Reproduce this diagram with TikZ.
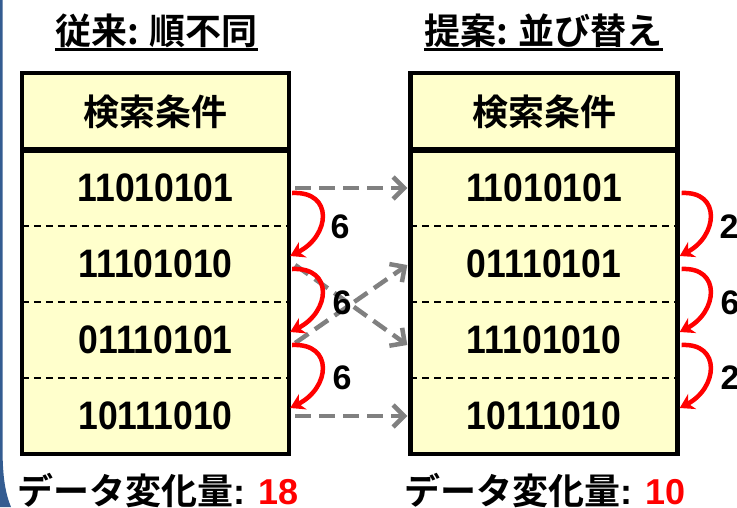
\documentclass[tikz,border=0pt]{standalone}
\usepackage{fontspec}
\setmainfont{Liberation Sans}
\newfontfamily\jp{Noto Sans CJK JP}[BoldFont={Noto Sans CJK JP Bold}]
\usetikzlibrary{arrows.meta,calc}
\definecolor{tblfill}{RGB}{255,255,204}
\definecolor{edgeblue}{RGB}{52,92,145}
\definecolor{arrgrey}{RGB}{128,128,128}
\definecolor{arcred}{RGB}{255,0,0}
\newcommand{\bits}[1]{\raisebox{-3pt}{\scalebox{1}[1.12]{#1}}}
\begin{document}
\begin{tikzpicture}[x=1pt,y=1pt,
  cell/.style={fill=tblfill, minimum width=267pt, minimum height=76pt, inner sep=0pt,
    font=\fontsize{35.5}{40}\selectfont\bfseries},
  hdrcell/.style={cell, minimum height=77pt, font=\fontsize{36}{40}\selectfont\jp\bfseries},
  ttl/.style={inner sep=0pt, anchor=base, font=\fontsize{36}{40}\selectfont\jp\bfseries},
  tot/.style={inner sep=0pt, anchor=base west, font=\fontsize{36}{40}\selectfont\jp\bfseries},
  cnt/.style={inner sep=0pt, font=\fontsize{34}{38}\selectfont\bfseries},
  border/.style={line width=4.5pt, line join=miter},
  hdrline/.style={line width=6pt},
  sepline/.style={line width=2pt, dash pattern=on 7pt off 5pt},
  movearrow/.style={draw=arrgrey, line width=4.5pt, dash pattern=on 16pt off 8pt,
    -{Straight Barb[length=11pt,width=22pt]}},
  redarc/.style={draw=arcred, line width=4.5pt, -{Stealth[length=14pt,width=17pt]}}
]
\useasboundingbox (0,0) rectangle (737,-507);
\clip (0,0) rectangle (737,-507);

% blue slide edge
\fill[edgeblue] (0,0) -- (2.6,0) -- (2.6,-455) .. controls (3,-480) and (6,-495) .. (11,-507) -- (0,-507) -- cycle;

% titles
\node[ttl] (TL) at (156.5,-44.5) {従来: 順不同};
\node[ttl] (TR) at (543.5,-44.5) {提案: 並び替え};
\draw[line width=2.5pt] ([yshift=-5pt]TL.base west) -- ([yshift=-5pt]TL.base east);
\draw[line width=2.5pt] ([yshift=-5pt]TR.base west) -- ([yshift=-5pt]TR.base east);

% left table
\node[hdrcell] (L0) at (155.5,-111.5) {検索条件};
\node[cell] (L1) at (155.5,-188) {\bits{11010101}};
\node[cell] (L2) at (155.5,-264) {\bits{11101010}};
\node[cell] (L3) at (155.5,-340) {\bits{01110101}};
\node[cell] (L4) at (155.5,-416) {\bits{10111010}};
\foreach \r in {1,2,3}{\draw[sepline] (L\r.south west) -- (L\r.south east);}
\draw[hdrline] (L0.south west) -- (L0.south east);
\draw[border] (L0.north west) rectangle (L4.south east);

% right table
\node[hdrcell] (R0) at (544,-111.5) {検索条件};
\node[cell] (R1) at (544,-188) {\bits{11010101}};
\node[cell] (R2) at (544,-264) {\bits{01110101}};
\node[cell] (R3) at (544,-340) {\bits{11101010}};
\node[cell] (R4) at (544,-416) {\bits{10111010}};
\foreach \r in {1,2,3}{\draw[sepline] (R\r.south west) -- (R\r.south east);}
\draw[hdrline] (R0.south west) -- (R0.south east);
\draw[border] (R0.north west) rectangle (R4.south east);

% grey reorder arrows
\draw[movearrow] ([xshift=6pt]L1.east) -- ([xshift=-3pt]R1.west);
\draw[movearrow] ($(L2.east)+(6,-1)$) -- ($(R3.west)+(-3,-5)$);
\draw[movearrow] ($(L3.east)+(6,-3)$) -- ($(R2.west)+(-3,-1)$);
\draw[movearrow] ([xshift=6pt]L4.east) -- ([xshift=-3pt]R4.west);

% red change arcs, left
\foreach \a/\b in {1/2,2/3,3/4}{
  \coordinate (ls\a) at ($(L\a.east)+(3,-5)$);
  \coordinate (le\a) at ($(L\b.east)+(1,8)$);
  \draw[redarc] (ls\a) .. controls ($(ls\a)+(42,2)$) and ($(le\a)+(40,20)$) .. (le\a);
}
\node[cnt] (c1) at (340,-227) {6};
\node[cnt] (c2) at (342,-303) {6};
\node[cnt] (c3) at (342,-378) {6};

% red change arcs, right
\foreach \a/\b in {1/2,2/3,3/4}{
  \coordinate (rs\a) at ($(R\a.east)+(4,-5)$);
  \coordinate (re\a) at ($(R\b.east)+(2,8)$);
  \draw[redarc] (rs\a) .. controls ($(rs\a)+(40,2)$) and ($(re\a)+(38,20)$) .. (re\a);
}
\node[cnt] (d1) at (729,-227) {2};
\node[cnt] (d2) at (730,-303) {6};
\node[cnt] (d3) at (730,-378) {2};

% totals
\node[tot] (SL) at (17,-504) {データ変化量\normalfont\bfseries: \textcolor{arcred}{18}};
\node[tot] (SR) at (404,-504) {データ変化量\normalfont\bfseries: \textcolor{arcred}{10}};
\end{tikzpicture}
\end{document}
